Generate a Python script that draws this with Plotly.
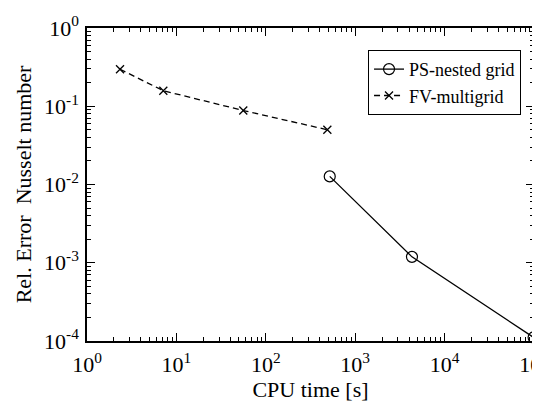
import plotly.graph_objects as go

ps_time = [519, 4315, 99000]
ps_err = [0.0127, 0.00119, 0.000111]
fv_time = [2.34, 7.14, 56, 488]
fv_err = [0.297, 0.158, 0.0882, 0.0501]

x_ticks = [1, 10, 100, 1000, 10000, 100000]
x_labels = ["10<sup>0</sup>", "10<sup>1</sup>", "10<sup>2</sup>", "10<sup>3</sup>", "10<sup>4</sup>", "10<sup>5</sup>"]
y_ticks = [1e-4, 1e-3, 1e-2, 1e-1, 1]
y_labels = ["10<sup>-4</sup>", "10<sup>-3</sup>", "10<sup>-2</sup>", "10<sup>-1</sup>", "10<sup>0</sup>"]

x_minor = [k * 10.0 ** d for d in range(0, 5) for k in range(2, 10)]
y_minor = [k * 10.0 ** d for d in range(-4, 0) for k in range(2, 10)]

font = "Liberation Serif, Times New Roman, serif"

fig = go.Figure()
fig.add_trace(go.Scatter(x=ps_time, y=ps_err, mode="lines+markers", name="PS-nested grid",
                         line=dict(color="black", width=1.3),
                         marker=dict(symbol="circle-open", size=11, color="black", line=dict(width=1.2)),
                         cliponaxis=False))
fig.add_trace(go.Scatter(x=fv_time, y=fv_err, mode="lines+markers", name="FV-multigrid",
                         line=dict(color="black", width=1.3, dash="6px,4px"),
                         marker=dict(symbol="x-thin-open", size=8, color="black", line=dict(width=1.3)),
                         cliponaxis=False))
# invisible trace to activate mirrored tick axes (top/right)
fig.add_trace(go.Scatter(x=fv_time, y=fv_err, xaxis="x2", yaxis="y2", mode="markers",
                         marker=dict(opacity=0), showlegend=False, hoverinfo="skip"))


def minor(vals):
    return dict(ticks="inside", ticklen=4, tickwidth=1.3, tickcolor="black", showgrid=False,
                tickmode="array", tickvals=vals)


def axis(rng, vals, labels, minor_vals, show_labels=True, **extra):
    d = dict(type="log", range=rng, showgrid=False, zeroline=False, showline=True, linecolor="black",
             linewidth=1.5, mirror=False, ticks="inside", ticklen=8, tickwidth=1.3, tickcolor="black",
             tickmode="array", tickvals=vals, minor=minor(minor_vals), showticklabels=show_labels)
    if show_labels:
        d.update(ticktext=labels, tickfont=dict(family=font, size=22, color="black"),
                 ticklabeloverflow="allow")
    d.update(extra)
    return d


fig.update_layout(
    xaxis=axis([0, 5], x_ticks, x_labels, x_minor, ticklabelstandoff=3,
               title=dict(text="CPU time [s]", font=dict(family=font, size=22, color="black"), standoff=4)),
    yaxis=axis([-4, 0], y_ticks, y_labels, y_minor, ticklabelstandoff=2,
               title=dict(text="Rel. Error  Nusselt number", font=dict(family=font, size=22, color="black"), standoff=6)),
    xaxis2=axis([0, 5], x_ticks, None, x_minor, show_labels=False, overlaying="x", side="top"),
    yaxis2=axis([-4, 0], y_ticks, None, y_minor, show_labels=False, overlaying="y", side="right"),
    width=540, height=402,
    margin=dict(l=79, r=14, t=20, b=69, autoexpand=False),
    plot_bgcolor="white", paper_bgcolor="white",
    font=dict(family=font, color="black"),
    legend=dict(x=0.971, y=0.93, xanchor="right", yanchor="top",
                bgcolor="white", bordercolor="black", borderwidth=1,
                font=dict(family=font, size=18, color="black"),
                tracegroupgap=0, itemwidth=30),
    showlegend=True,
)

fig.write_html("out.html")
